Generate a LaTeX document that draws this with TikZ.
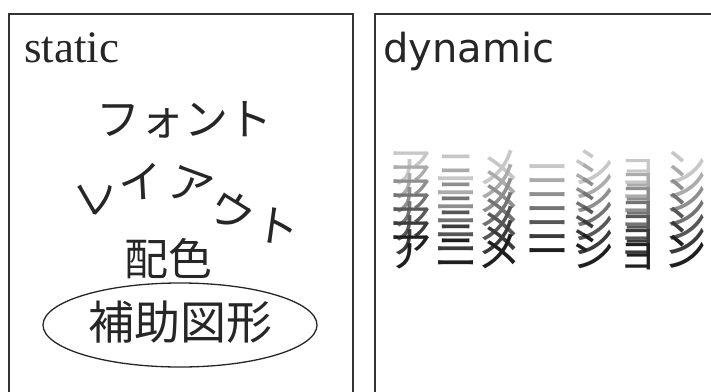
\documentclass[tikz,border=0pt]{standalone}
\usepackage{fontspec}
\setmainfont{Liberation Serif}
\newfontfamily\jpfont{Noto Sans CJK JP}
\newfontfamily\dynfont{DejaVu Sans}
\usetikzlibrary{shapes.geometric}

\begin{document}
\begin{tikzpicture}[
  x=1pt, y=-1pt,
  panel/.style={
    draw=black!80,
    line width=1.3pt,
  },
  title node/.style={
    anchor=base west,
    inner sep=0pt,
    text=black!85,
  },
  kana node/.style={
    inner sep=0pt,
    text height=38.7pt,
    text depth=5.3pt,
    text=black!85,
    font=\jpfont\fontsize{44}{48}\selectfont,
  },
  anim node/.style={
    inner sep=0pt,
    anchor=base,
    font=\jpfont\fontsize{44}{48}\selectfont,
  },
  ]
  \useasboundingbox (0,0) rectangle (711,391);
  \clip (0,0) rectangle (711,391);

  % the two panels
  \draw[panel] (9,14) rectangle (353,430);
  \draw[panel] (375,14) rectangle (730,430);

  % static side
  \node[title node,font=\fontsize{45}{49}\selectfont] (static-title) at (24,62) {static};
  \node[kana node] (font-word) at (184,119) {フォント};
  \node[kana node,rotate=30] (layout-re) at (96,195) {レ};
  \node[kana node,rotate=3] (layout-i) at (141,182) {イ};
  \node[kana node,rotate=-20] (layout-a) at (191,185) {ア};
  \node[kana node,rotate=-32] (layout-u) at (232,211) {ウ};
  \node[kana node,rotate=-8] (layout-to) at (278,226) {ト};
  \node[kana node] (colour-word) at (168,259) {配色};
  \node[draw=black!85,line width=1.3pt,ellipse,
    minimum width=274pt,minimum height=84pt] (support-ring) at (180,325) {};
  \node[kana node,font=\jpfont\fontsize{46}{50}\selectfont] (support-shape) at (180,323) {補助図形};

  % dynamic side
  \node[title node,font=\dynfont\fontsize{40}{44}\selectfont] (dynamic-title) at (383,62) {dynamic};
  \foreach \ch/\x in {ア/410,ニ/456,メ/499,ー/547,シ/593,ョ/638,ン/685} {
    \foreach \i in {0,...,6} {
      \pgfmathtruncatemacro\shade{22+11*\i}
      \node[anim node,text=black!\shade] (anim-\x-\i) at (\x,183+14*\i) {\ch};
    }
  }
\end{tikzpicture}
\end{document}
